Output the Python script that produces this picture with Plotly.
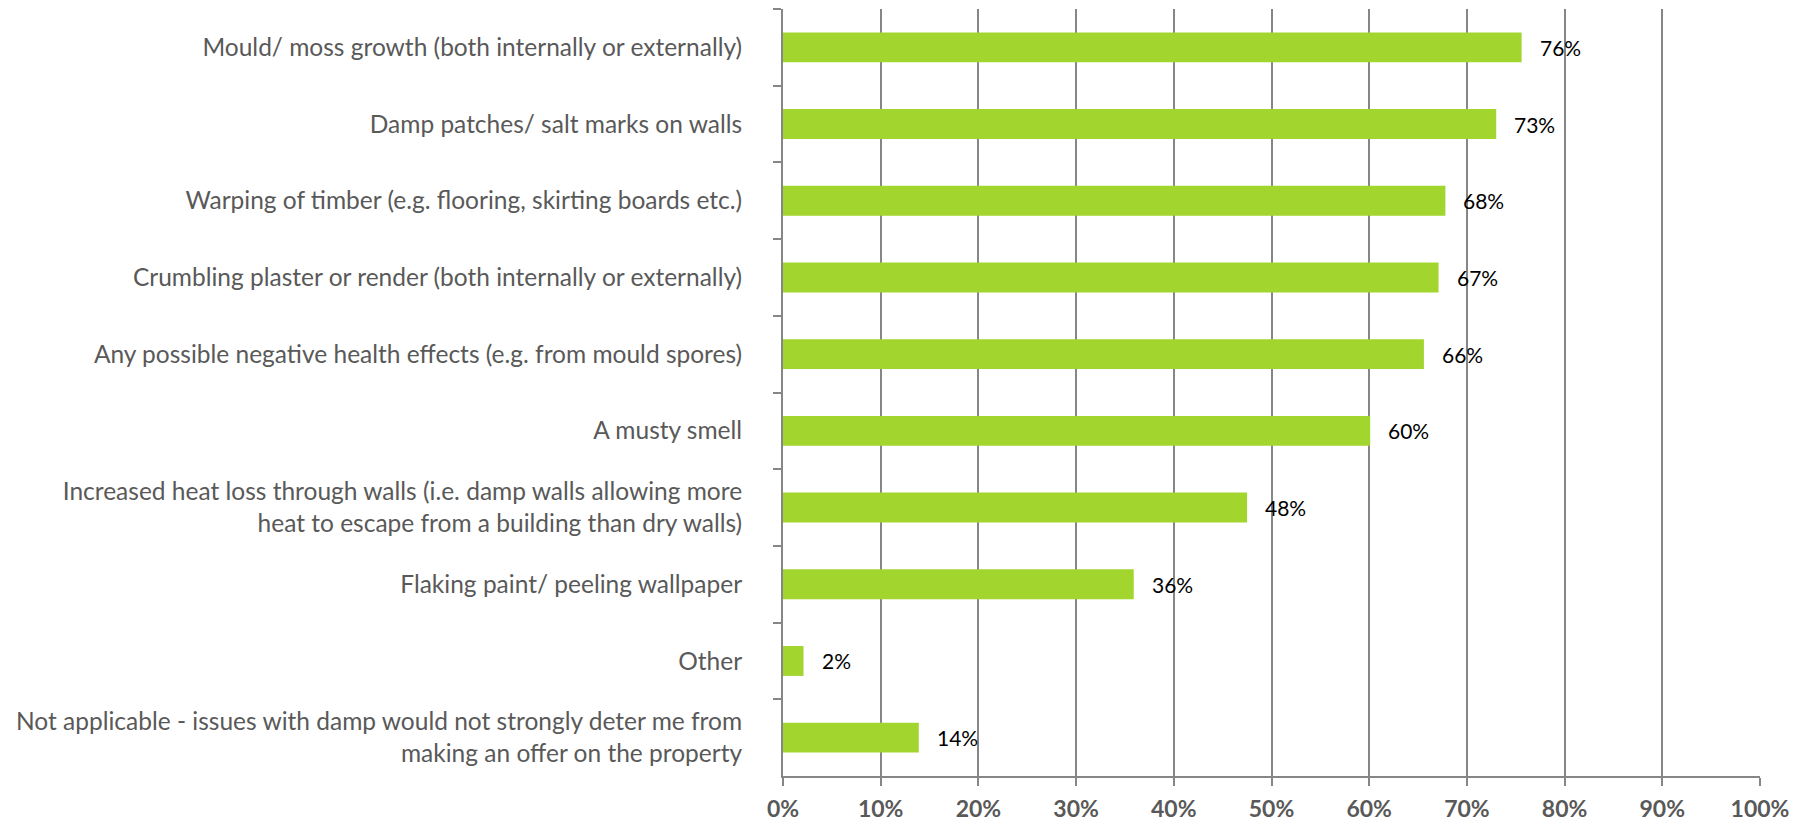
import plotly.graph_objects as go

categories = [
    "Mould/ moss growth (both internally or externally)",
    "Damp patches/ salt marks on walls",
    "Warping of timber (e.g. flooring, skirting boards etc.)",
    "Crumbling plaster or render (both internally or externally)",
    "Any possible negative health effects (e.g. from mould spores)",
    "A musty smell",
    "Increased heat loss through walls (i.e. damp walls allowing more<br>heat to escape from a building than dry walls)",
    "Flaking paint/ peeling wallpaper",
    "Other",
    "Not applicable - issues with damp would not strongly deter me from<br>making an offer on the property",
]
values = [75.6, 73.0, 67.8, 67.1, 65.6, 60.1, 47.5, 35.9, 2.1, 13.9]
value_labels = ["76%", "73%", "68%", "67%", "66%", "60%", "48%", "36%", "2%", "14%"]
x_ticks = [0, 10, 20, 30, 40, 50, 60, 70, 80, 90, 100]

FONT = "Lato"
GRID = "#868686"
TEXT = "#595959"
BAR = "#A2D52E"

fig = go.Figure()
fig.add_trace(go.Bar(
    x=values, y=categories, orientation="h",
    marker=dict(color=BAR, line=dict(width=0)),
    hoverinfo="skip",
))

for v, c, t in zip(values, categories, value_labels):
    fig.add_annotation(
        x=v, y=c, text=t, showarrow=False, xanchor="left", yanchor="middle",
        xshift=16, font=dict(family=FONT, size=21, color="#000000"),
    )

# page body adds an 8px margin; size the figure so it fits the 1800x822 window
fig.update_layout(
    width=1792, height=814,
    margin=dict(l=775, r=40, t=1, b=46),
    plot_bgcolor="white", paper_bgcolor="white",
    bargap=0.61,
    showlegend=False,
    font=dict(family=FONT, color=TEXT),
)
fig.update_xaxes(
    range=[0, 100], tickvals=x_ticks, ticktext=[f"{t}%" for t in x_ticks],
    showgrid=True, gridcolor=GRID, gridwidth=2,
    showline=True, linecolor=GRID, linewidth=2,
    ticks="outside", ticklen=8, tickwidth=2, tickcolor=GRID,
    tickfont=dict(family=FONT, size=23, color=TEXT, weight="bold"),
    zeroline=False, fixedrange=True, ticklabelstandoff=3, automargin=False,
)
fig.update_yaxes(
    autorange="reversed", type="category",
    showgrid=False, showline=True, linecolor=GRID, linewidth=2,
    ticks="outside", ticklen=8, tickwidth=2, tickcolor=GRID, tickson="boundaries",
    tickfont=dict(family=FONT, size=24.5, color=TEXT),
    ticklabelstandoff=34, fixedrange=True, automargin=False,
)

fig.write_html("out.html")
